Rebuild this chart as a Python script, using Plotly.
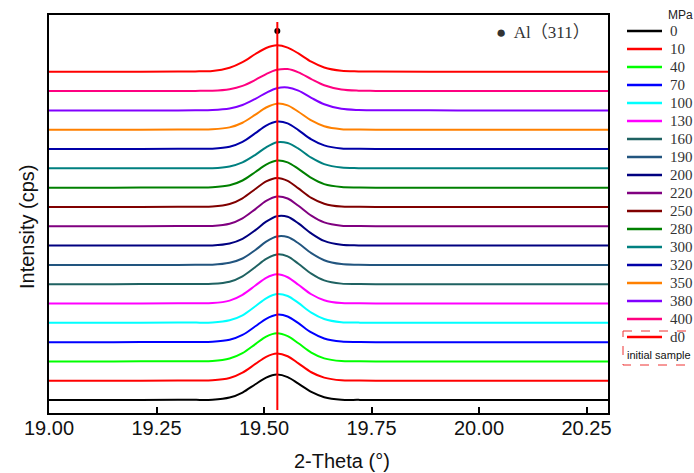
import plotly.graph_objects as go

# 2-Theta sample positions (degrees)
two_theta = [19.00, 19.15, 19.30, 19.34, 19.38, 19.42, 19.45, 19.48, 19.505,
             19.53, 19.555, 19.58, 19.61, 19.64, 19.68, 19.72, 19.76, 19.95,
             20.30]

# Intensity profiles (baseline-subtracted, arbitrary units) for each load
int_0   = [0, 0, 0.01, 0.01, 0.02, 0.13, 0.39, 0.82, 1.16, 1.32, 1.19, 0.85, 0.42, 0.15, 0.02, 0.01, 0.0, 0, 0]
int_10  = [0, 0, 0.01, 0.01, 0.02, 0.14, 0.42, 0.87, 1.24, 1.41, 1.27, 0.90, 0.44, 0.16, 0.02, 0.01, 0.0, 0, 0]
int_40  = [0, 0, 0.01, 0.01, 0.02, 0.15, 0.43, 0.90, 1.29, 1.46, 1.31, 0.94, 0.46, 0.16, 0.02, 0.01, 0.0, 0, 0]
int_70  = [0, 0, 0.01, 0.01, 0.02, 0.12, 0.37, 0.82, 1.21, 1.42, 1.33, 0.98, 0.50, 0.19, 0.03, 0.01, 0.0, 0, 0]
int_100 = [0, 0, 0.01, 0.01, 0.02, 0.13, 0.39, 0.86, 1.27, 1.49, 1.39, 1.03, 0.53, 0.20, 0.03, 0.01, 0.0, 0, 0]
int_130 = [0, 0, 0.01, 0.01, 0.02, 0.15, 0.45, 0.93, 1.33, 1.51, 1.36, 0.97, 0.48, 0.17, 0.02, 0.01, 0.0, 0, 0]
int_160 = [0, 0, 0.01, 0.01, 0.02, 0.13, 0.41, 0.89, 1.31, 1.54, 1.44, 1.06, 0.55, 0.20, 0.03, 0.01, 0.0, 0, 0]
int_190 = [0, 0, 0.00, 0.01, 0.01, 0.11, 0.33, 0.77, 1.20, 1.47, 1.44, 1.12, 0.61, 0.24, 0.04, 0.01, 0.0, 0, 0]
int_200 = [0, 0, 0.00, 0.01, 0.01, 0.11, 0.35, 0.80, 1.24, 1.52, 1.49, 1.15, 0.63, 0.24, 0.04, 0.01, 0.0, 0, 0]
int_220 = [0, 0, 0.01, 0.01, 0.02, 0.13, 0.41, 0.89, 1.31, 1.54, 1.44, 1.06, 0.55, 0.20, 0.03, 0.01, 0.0, 0, 0]
int_250 = [0, 0, 0.01, 0.01, 0.02, 0.15, 0.45, 0.93, 1.32, 1.50, 1.35, 0.96, 0.47, 0.17, 0.02, 0.01, 0.0, 0, 0]
int_280 = [0, 0, 0.01, 0.01, 0.02, 0.12, 0.37, 0.81, 1.19, 1.40, 1.31, 0.97, 0.50, 0.18, 0.03, 0.01, 0.0, 0, 0]
int_300 = [0, 0, 0.00, 0.01, 0.01, 0.10, 0.31, 0.70, 1.09, 1.35, 1.31, 1.02, 0.55, 0.22, 0.04, 0.01, 0.0, 0, 0]
int_320 = [0, 0, 0.01, 0.01, 0.02, 0.12, 0.37, 0.82, 1.21, 1.42, 1.33, 0.98, 0.50, 0.19, 0.03, 0.01, 0.0, 0, 0]
int_350 = [0, 0, 0.01, 0.01, 0.02, 0.12, 0.36, 0.78, 1.15, 1.35, 1.26, 0.93, 0.48, 0.18, 0.03, 0.01, 0.0, 0, 0]
int_380 = [0, 0, 0.00, 0.01, 0.02, 0.10, 0.28, 0.60, 0.91, 1.15, 1.19, 1.02, 0.65, 0.32, 0.08, 0.02, 0.01, 0, 0]
int_400 = [0, 0, 0.00, 0.01, 0.02, 0.10, 0.27, 0.58, 0.88, 1.10, 1.14, 0.97, 0.62, 0.30, 0.08, 0.02, 0.01, 0, 0]
int_d0  = [0, 0, 0.01, 0.02, 0.04, 0.21, 0.50, 0.92, 1.23, 1.37, 1.25, 0.95, 0.52, 0.22, 0.05, 0.02, 0.01, 0, 0]

loads = ["0", "10", "40", "70", "100", "130", "160", "190", "200",
         "220", "250", "280", "300", "320", "350", "380", "400", "d0"]
profiles = [int_0, int_10, int_40, int_70, int_100, int_130, int_160, int_190,
            int_200, int_220, int_250, int_280, int_300, int_320, int_350,
            int_380, int_400, int_d0]
colors = ["#000000", "#ff0000", "#00ff00", "#0000ff", "#00ffff", "#ff00ff",
          "#1f6262", "#22557f", "#000080", "#800080", "#800000", "#008000",
          "#008080", "#0000a8", "#ff8000", "#8000ff", "#ff0080", "#ff0000"]

# Reference peak position of Al (311) for the unloaded sample
peak_ref = 19.531
x_ticks = [19.00, 19.25, 19.50, 19.75, 20.00, 20.25]

W, H = 694, 473
ML, MR, MT, MB = 49, 86, 15, 60
PW, PH = W - ML - MR, H - MT - MB
STEP = 1.0  # vertical offset between stacked patterns


def px(x):
    return (x - ML) / PW


def py(y):
    return (H - MB - y) / PH


fig = go.Figure()
for i, (name, prof, col) in enumerate(zip(loads, profiles, colors)):
    fig.add_trace(go.Scatter(
        x=two_theta, y=[v + i * STEP for v in prof], mode="lines",
        line=dict(color=col, width=2, shape="spline", smoothing=0.9),
        name=name, showlegend=False, hoverinfo="skip"))

# marker above the Al (311) peak
fig.add_trace(go.Scatter(x=[peak_ref], y=[19.11], mode="markers",
                         marker=dict(color="black", size=6),
                         showlegend=False, hoverinfo="skip"))

shapes = [dict(type="line", xref="x", yref="y", x0=peak_ref, x1=peak_ref,
               y0=-0.52, y1=19.58, line=dict(color="#ff0000", width=2))]
annotations = []

# hand-built legend column
serif = "Liberation Serif"
sans = "Liberation Sans"
for i, (name, col) in enumerate(zip(loads, colors)):
    yy = py(31 + 18 * i)
    shapes.append(dict(type="line", xref="paper", yref="paper",
                       x0=px(627), x1=px(662), y0=yy, y1=yy,
                       line=dict(color=col, width=2.5)))
    annotations.append(dict(xref="paper", yref="paper", x=px(668), y=yy,
                            text=name, showarrow=False, xanchor="left",
                            yanchor="middle",
                            font=dict(family=serif, size=15, color="#333")))

annotations.append(dict(xref="paper", yref="paper", x=px(680), y=py(15),
                        text="MPa", showarrow=False, xanchor="center",
                        yanchor="middle",
                        font=dict(family=sans, size=12, color="#222")))
annotations.append(dict(xref="paper", yref="paper", x=px(625), y=py(355),
                        text="initial sample", showarrow=False,
                        xanchor="left", yanchor="middle",
                        font=dict(family=sans, size=11, color="#111")))
shapes.append(dict(type="rect", xref="paper", yref="paper",
                   x0=px(623), x1=px(700), y0=py(331), y1=py(365),
                   line=dict(color="#ee3333", width=1, dash="dash")))

# phase label
annotations.append(dict(xref="paper", yref="paper", x=px(494), y=py(33),
                        text="●  Al（311）", showarrow=False, xanchor="left",
                        yanchor="middle",
                        font=dict(family=serif + ", Noto Sans CJK SC",
                                  size=17, color="#333")))

# axis titles
annotations.append(dict(xref="paper", yref="paper", x=px(342), y=py(461),
                        text="2-Theta (°)", showarrow=False,
                        xanchor="center", yanchor="middle",
                        font=dict(family=sans, size=20, color="#111")))
annotations.append(dict(xref="paper", yref="paper", x=px(27), y=py(227),
                        text="Intensity (cps)", showarrow=False, textangle=-90,
                        xanchor="center", yanchor="middle",
                        font=dict(family=sans, size=20, color="#111")))

fig.update_layout(
    width=W, height=H,
    margin=dict(l=ML, r=MR, t=MT, b=MB),
    paper_bgcolor="white", plot_bgcolor="white",
    shapes=shapes, annotations=annotations,
    xaxis=dict(range=[19.0, 20.3], tickvals=x_ticks,
               ticktext=[f"{v:.2f}" for v in x_ticks],
               ticks="inside", ticklen=6, tickwidth=1.5, tickcolor="black",
               ticklabelstandoff=-4,
               showline=True, linecolor="black", linewidth=2, mirror=True,
               showgrid=False, zeroline=False,
               tickfont=dict(family=sans, size=20, color="#111")),
    yaxis=dict(range=[-0.67, 19.94], showticklabels=False, ticks="",
               showline=True, linecolor="black", linewidth=2, mirror=True,
               showgrid=False, zeroline=False),
)

fig.write_html("out.html")
